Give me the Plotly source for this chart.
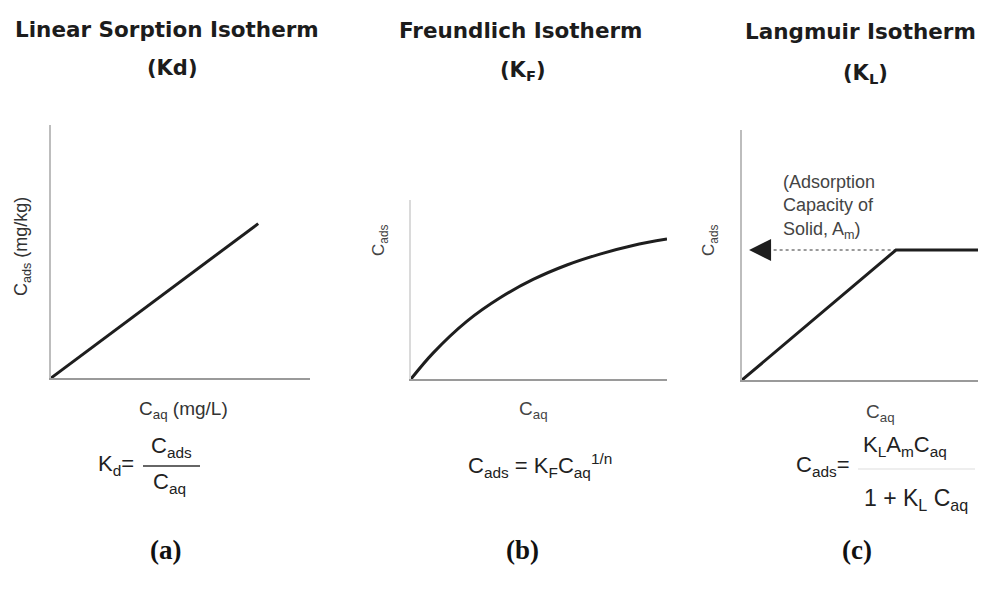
import plotly.graph_objects as go

# The page places the figure 8px in from the top-left corner, so the
# figure is sized to fill the rest of the 986x590 window.
OFF = 8
W, H = 986 - OFF, 590 - OFF

# ---------------- data ----------------
linear_x = [0, 8.0]
linear_y = [0, 6.1]

freundlich_x = [0, 0.86, 2.19, 3.48, 4.77, 6.09, 7.38, 8.67, 10.0]
freundlich_y = [0, 1.02, 2.28, 3.2, 3.92, 4.49, 4.92, 5.26, 5.51]

langmuir_x = [0, 6.31, 10.0]
langmuir_y = [0, 5.2, 5.2]
arrow_tip_x = 0.29
arrow_tail_x = 1.05

titles = ["Linear Sorption Isotherm", "Freundlich Isotherm", "Langmuir Isotherm"]
subtitles = ["(Kd)", "(K<sub>F</sub>)", "(K<sub>L</sub>)"]
panel_tags = ["(a)", "(b)", "(c)"]


def px(x):
    return (x - OFF) / W


def py(y):
    return 1 - (y - OFF) / H


SANS = "DejaVu Sans"
ARIAL = "Liberation Sans"
CURVE = "#1e1e1e"

fig = go.Figure()

fig.add_trace(go.Scatter(x=linear_x, y=linear_y, mode="lines",
                         line=dict(color=CURVE, width=3), xaxis="x", yaxis="y",
                         showlegend=False, hoverinfo="skip"))
fig.add_trace(go.Scatter(x=freundlich_x, y=freundlich_y, mode="lines",
                         line=dict(color=CURVE, width=3, shape="spline", smoothing=1.0),
                         xaxis="x2", yaxis="y2", showlegend=False, hoverinfo="skip"))
fig.add_trace(go.Scatter(x=[arrow_tail_x, langmuir_x[1]], y=[langmuir_y[1], langmuir_y[1]],
                         mode="lines", line=dict(color="#9a9a9a", width=2, dash="dot"),
                         xaxis="x3", yaxis="y3", showlegend=False, hoverinfo="skip"))
fig.add_trace(go.Scatter(x=langmuir_x, y=langmuir_y, mode="lines",
                         line=dict(color=CURVE, width=3), xaxis="x3", yaxis="y3",
                         showlegend=False, hoverinfo="skip"))


def axis(domain, rng, color, anchor):
    return dict(domain=domain, range=rng, showline=True, linecolor=color, linewidth=1.5,
                showgrid=False, zeroline=False, showticklabels=False, ticks="",
                anchor=anchor, fixedrange=True)


fig.update_layout(
    width=W, height=H, margin=dict(l=0, r=0, t=0, b=0),
    paper_bgcolor="white", plot_bgcolor="rgba(0,0,0,0)",
    xaxis=axis([px(51), px(310)], [0, 10], "#9a9a9a", "y"),
    yaxis=axis([py(378), py(125)], [0, 10], "#bdbdbd", "x"),
    xaxis2=axis([px(411), px(667)], [0, 10], "#9a9a9a", "y2"),
    yaxis2=axis([py(379), py(200)], [0, 7.05], "#dadada", "x2"),
    xaxis3=axis([px(742), 1.0], [0, 10], "#9a9a9a", "y3"),
    yaxis3=axis([py(380), py(130)], [0, 10], "#bdbdbd", "x3"),
)

ann = []


def text(x, y, s, size, font=ARIAL, color="#222", xanchor="center", angle=0, weight=None, align="center"):
    f = dict(family=font, size=size, color=color)
    if weight:
        f["weight"] = weight
    ann.append(dict(x=px(x), y=py(y), xref="paper", yref="paper", text=s, showarrow=False,
                    font=f, xanchor=xanchor, yanchor="middle", textangle=angle, align=align))


# titles
title_x = [167, 521, 860]
sub_x = [172, 523, 865]
for i in range(3):
    text(title_x[i], 30 + i, titles[i], 21.5, font=SANS, color="#1c1c1c", weight="bold")
    text(sub_x[i], 68 + 3 * i, subtitles[i], 21, font=SANS, color="#1c1c1c", weight="bold")

# axis labels
text(22, 247, "C<sub>ads</sub> (mg/kg)", 18, angle=-90, color="#333")
text(183, 410, "C<sub>aq</sub> (mg/L)", 19, color="#333")
text(380, 240, "C<sub>ads</sub>", 17, angle=-90, color="#444")
text(533, 410, "C<sub>aq</sub>", 19, color="#444")
text(710, 240, "C<sub>ads</sub>", 17, angle=-90, color="#444")
text(880, 413, "C<sub>aq</sub>", 19, color="#444")

# annotation inside Langmuir panel
text(781, 207, "(Adsorption<br>Capacity of<br>Solid, A<sub>m</sub>)", 18, color="#444",
     xanchor="left", align="left")

# formulas
text(136, 465, "K<sub>d</sub>=", 22, xanchor="right")
text(171, 447, "C<sub>ads</sub>", 22)
text(169, 483, "C<sub>aq</sub>", 22)
text(540, 465, "C<sub>ads</sub> = K<sub>F</sub>C<sub>aq</sub><sup>1/n</sup>", 22)
text(852, 466, "C<sub>ads</sub>=", 22, xanchor="right")
text(905, 446, "K<sub>L</sub>A<sub>m</sub>C<sub>aq</sub>", 22)
text(916, 499, "1 + K<sub>L</sub> C<sub>aq</sub>", 23)

# panel tags
for x, t in zip([165, 522, 857], panel_tags):
    text(x, 550, t, 27, font="Liberation Serif", color="#111", weight="bold")

# arrow toward the y axis (adsorption capacity)
ann.append(dict(x=arrow_tip_x, y=langmuir_y[1], xref="x3", yref="y3",
                ax=arrow_tail_x, ay=langmuir_y[1], axref="x3", ayref="y3",
                text="", showarrow=True, arrowhead=2, arrowsize=2.2, arrowwidth=2,
                arrowcolor="#1e1e1e"))

fig.update_layout(annotations=ann)

shapes = [
    dict(type="line", xref="paper", yref="paper", x0=px(143), x1=px(200), y0=py(466), y1=py(466),
         line=dict(color="#333", width=1.5)),
    dict(type="line", xref="paper", yref="paper", x0=px(858), x1=px(975), y0=py(469), y1=py(469),
         line=dict(color="#e8e8e8", width=1.5)),
]
fig.update_layout(shapes=shapes)

fig.write_html("out.html")
